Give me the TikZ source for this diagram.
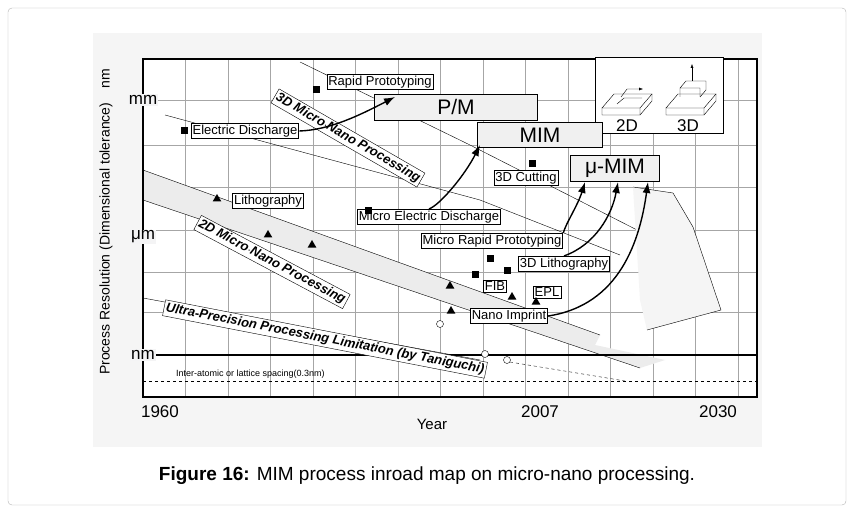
\documentclass[tikz,border=0pt]{standalone}
\usepackage{fontspec}
\setmainfont{Liberation Sans}
\usetikzlibrary{arrows.meta,shapes.geometric}
\tikzset{
  lbl/.style={draw, fill=white, inner sep=1.5pt, font=\fontsize{13}{14}\selectfont},
  big/.style={draw, fill=gray!12, font=\fontsize{21}{22}\selectfont, inner sep=1pt},
  slant/.style={draw, fill=white, font=\fontsize{13}{14}\selectfont\bfseries\itshape, inner sep=2pt},
  sq/.style={fill=black, minimum size=7pt, inner sep=0pt},
  tri/.style={fill=black, regular polygon, regular polygon sides=3, minimum size=10pt, inner sep=0pt},
  circ/.style={draw, circle, minimum size=7pt, inner sep=0pt, fill=white},
  road/.style={-{Latex[length=11pt,width=8pt]}, line width=1.4pt},
  axlbl/.style={font=\fontsize{17}{18}\selectfont},
}
\begin{document}
\begin{tikzpicture}[x=1pt,y=-1pt]
\useasboundingbox (0,0) rectangle (854,513);
\draw[gray!60, rounded corners=4pt] (8,8) rectangle (846,505);
\fill[blue!3!gray!8] (93,33) rectangle (762,447);
\fill[white] (143,59) rectangle (757,397);
% grid
\foreach \x in {185,228,270,313,355,398,440,483,525,568,610,653,695,738}
  \draw[gray!70] (\x,59) -- (\x,397);
\foreach \y in {100,145,187,230,272,312}
  \draw[gray!70] (143,\y) -- (757,\y);
% bands
\fill[gray!15] (143,170) -- (600,335) -- (595,345) -- (665,360) -- (640,368) -- (143,200) -- cycle;
\draw (143,170) -- (600,335);
\draw (143,200) -- (640,368);
\draw (165,115) -- (480,200) -- (620,255);
\draw (300,62) -- (470,145) -- (700,262);
\fill[gray!8] (633,187) -- (673,193) -- (693,227) -- (721,310) -- (647,330) -- (640,300) -- cycle;
\draw (633,187) -- (673,193) -- (693,227) -- (721,310) -- (647,330);
\draw (143,298) -- (480,360);
\draw[dashed] (510,362) -- (625,381);
% axes
\draw[line width=1.2pt] (143,59) -- (757,59) -- (757,397) -- (143,397) -- cycle;
\draw[line width=1.6pt] (143,355) -- (757,355);
\draw[dashed] (143,381) -- (757,381);
\node[font=\fontsize{9}{10}\selectfont, anchor=south west, inner sep=1pt] (lat) at (175,380) {Inter-atomic or lattice spacing(0.3nm)};
\node[axlbl, fill=blue!3!gray!8, inner sep=1pt] (mm) at (143,100) {mm};
\node[axlbl, fill=blue!3!gray!8, inner sep=1pt] (um) at (143,237) {μm};
\node[axlbl, fill=blue!3!gray!8, inner sep=1pt] (nmlbl) at (143,355) {nm};
\node[font=\fontsize{14}{15}\selectfont, rotate=90] (ylab) at (106,222) {Process Resolution (Dimensional tolerance)\quad nm};
\node[axlbl] (y1960) at (160,412) {1960};
\node[axlbl] (y2007) at (540,412) {2007};
\node[axlbl] (y2030) at (718,412) {2030};
\node[font=\fontsize{15}{16}\selectfont] (year) at (432,424) {Year};
% inset
\draw[fill=white] (595,57) rectangle (723,133);
\draw (602,108) -- (614,94) -- (652,94) -- (640,108) -- cycle;
\draw (602,108) -- (602,115) -- (640,115) -- (640,108) (640,115) -- (652,101) -- (652,94);
\draw (617,104) -- (624,98) -- (642,98);
\draw[-{Latex[length=4pt]}] (621,97) -- (627,89) -- (643,89);
\draw (666,108) -- (678,94) -- (716,94) -- (704,108) -- cycle;
\draw (666,108) -- (666,115) -- (704,115) -- (704,108) (704,115) -- (716,101) -- (716,94);
\draw (680,97) -- (680,88) -- (700,88) -- (700,97) (680,88) -- (686,81) -- (706,81) -- (706,90) -- (700,97);
\draw[-{Latex[length=4pt]}] (692,81) -- (692,64);
\node[axlbl] (d2) at (627,126) {2D};
\node[axlbl] (d3) at (688,126) {3D};
% labels
\node[big, minimum width=163pt, minimum height=26pt] (pm) at (456,107) {P/M};
\node[big, minimum width=125pt, minimum height=25pt] (mim) at (540,135) {MIM};
\node[big, minimum width=89pt, minimum height=26pt] (umim) at (615,168) {μ-MIM};
\node[lbl] (rp) at (380,82) {Rapid Prototyping};
\node[sq] (rpm) at (316,90) {};
\node[lbl, line width=1pt] (ed) at (245,131) {Electric Discharge};
\node[sq] (edm) at (184,131) {};
\node[slant, rotate=-30] (p3d) at (348,138) {3D Micro$\cdot$Nano Processing};
\node[lbl] (cut) at (526,178) {3D Cutting};
\node[sq] (cutm) at (532,164) {};
\node[lbl] (lith) at (268,201) {Lithography};
\node[tri] (lithm) at (217,199) {};
\node[lbl, line width=1pt] (med) at (429,217) {Micro Electric Discharge};
\node[sq] (medm) at (368,211) {};
\node[lbl, line width=1pt] (mrp) at (492,241) {Micro Rapid Prototyping};
\node[slant, rotate=-28] (p2d) at (272,262) {2D Micro$\cdot$Nano Processing};
\node[lbl, line width=1pt] (l3d) at (564,264) {3D Lithography};
\node[lbl] (fib) at (495,286) {FIB};
\node[lbl] (epl) at (547,292) {EPL};
\node[lbl, line width=1pt] (ni) at (509,316) {Nano Imprint};
\node[slant, rotate=-11] (upl) at (325,339) {Ultra-Precision Processing Limitation (by Taniguchi)};
\foreach \px/\py [count=\i] in {268/235,312/245,450/286,451/311,512/297,536/302}
  \node[tri] (t\i) at (\px,\py) {};
\foreach \px/\py [count=\i] in {490/258,475/274,507/270}
  \node[sq] (s\i) at (\px,\py) {};
\foreach \px/\py [count=\i] in {440/324,485/354,507/360}
  \node[circ] (c\i) at (\px,\py) {};
% roads
\draw[road] (ed.east) .. controls (330,130) and (360,115) .. (395,97);
\draw[road] (med.north) .. controls (440,205) and (465,175) .. (480,145);
\draw[road] (mrp.north east) .. controls (565,225) and (578,205) .. (585,182);
\draw[road] (l3d.north) .. controls (595,245) and (612,215) .. (618,182);
\draw[road] (ni.east) .. controls (620,305) and (640,240) .. (648,182);
% caption
\node[font=\fontsize{19}{21}\selectfont] (cap) at (427,476) {\textbf{Figure 16:} MIM process inroad map on micro-nano processing.};
\end{tikzpicture}
\end{document}
